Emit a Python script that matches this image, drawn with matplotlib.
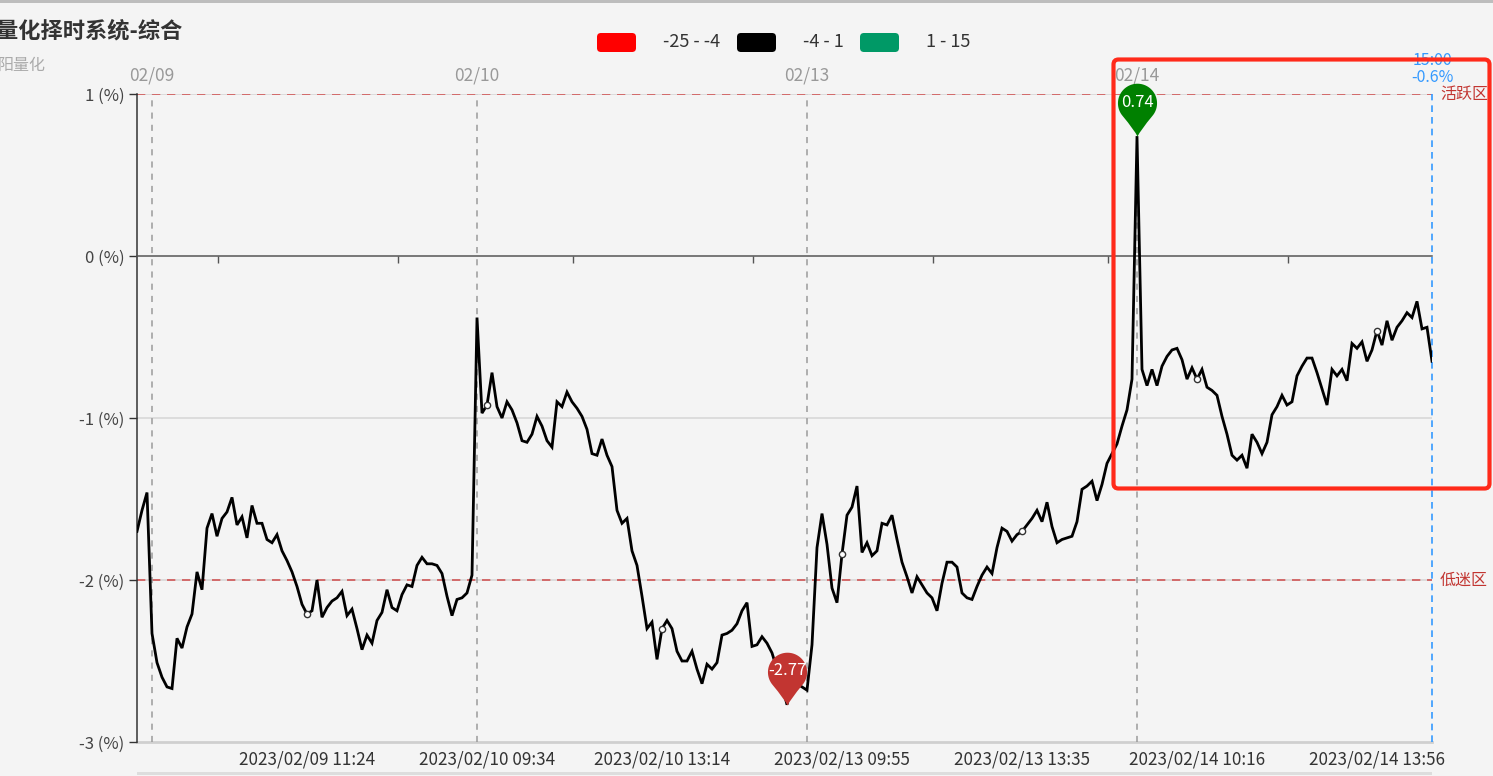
import numpy as np
import matplotlib
matplotlib.use('Agg')
import matplotlib.pyplot as plt
from matplotlib.path import Path
from matplotlib.patches import FancyBboxPatch, Rectangle
from matplotlib.transforms import Affine2D

plt.rcParams['font.family'] = ['Noto Sans CJK SC', 'DejaVu Sans']

# ---------------- data ----------------
title = '量化择时系统-综合'
subtitle = '阳量化'

values = [
    -1.70, -1.57, -1.46, -2.33, -2.51, -2.60, -2.66, -2.67, -2.36, -2.42,
    -2.29, -2.21, -1.95, -2.06, -1.68, -1.59, -1.73, -1.62, -1.58, -1.49,
    -1.66, -1.61, -1.74, -1.54, -1.65, -1.65, -1.75, -1.77, -1.72, -1.82,
    -1.88, -1.95, -2.04, -2.15, -2.21, -2.19, -2.00, -2.23, -2.17, -2.13,
    -2.11, -2.07, -2.22, -2.18, -2.30, -2.43, -2.34, -2.39, -2.25, -2.20,
    -2.06, -2.17, -2.19, -2.09, -2.03, -2.04, -1.91, -1.86, -1.90, -1.90,
    -1.91, -1.96, -2.10, -2.22, -2.12, -2.11, -2.08, -1.97, -0.38, -0.97,
    -0.92, -0.72, -0.93, -1.00, -0.90, -0.95, -1.03, -1.14, -1.15, -1.10,
    -0.99, -1.05, -1.14, -1.18, -0.90, -0.93, -0.84, -0.90, -0.94, -0.99,
    -1.07, -1.22, -1.23, -1.13, -1.23, -1.30, -1.57, -1.65, -1.62, -1.82,
    -1.91, -2.10, -2.30, -2.26, -2.49, -2.30, -2.25, -2.30, -2.44, -2.50,
    -2.50, -2.44, -2.55, -2.64, -2.52, -2.55, -2.51, -2.34, -2.33, -2.31,
    -2.27, -2.19, -2.14, -2.41, -2.40, -2.35, -2.39, -2.45, -2.55, -2.65,
    -2.77, -2.62, -2.64, -2.66, -2.68, -2.40, -1.80, -1.59, -1.78, -2.05,
    -2.14, -1.84, -1.60, -1.55, -1.42, -1.83, -1.77, -1.85, -1.82, -1.65,
    -1.66, -1.60, -1.75, -1.89, -1.98, -2.08, -1.98, -2.03, -2.08, -2.11,
    -2.19, -2.02, -1.89, -1.89, -1.92, -2.08, -2.11, -2.12, -2.04, -1.97,
    -1.92, -1.96, -1.80, -1.68, -1.70, -1.76, -1.72, -1.70, -1.66, -1.62,
    -1.57, -1.64, -1.52, -1.67, -1.77, -1.75, -1.74, -1.73, -1.64, -1.44,
    -1.42, -1.39, -1.51, -1.41, -1.28, -1.22, -1.16, -1.05, -0.95, -0.76,
     0.74, -0.70, -0.80, -0.70, -0.80, -0.68, -0.62, -0.58, -0.57, -0.64,
    -0.76, -0.69, -0.76, -0.70, -0.81, -0.83, -0.86, -0.99, -1.10, -1.23,
    -1.26, -1.23, -1.31, -1.10, -1.15, -1.22, -1.15, -0.98, -0.93, -0.86,
    -0.92, -0.90, -0.74, -0.68, -0.63, -0.63, -0.72, -0.82, -0.92, -0.70,
    -0.74, -0.70, -0.77, -0.54, -0.57, -0.53, -0.65, -0.58, -0.46, -0.55,
    -0.40, -0.52, -0.44, -0.40, -0.35, -0.38, -0.28, -0.45, -0.44, -0.65,
]

day_labels = ['02/09', '02/10', '02/13', '02/14']
day_start_idx = [3, 68, 134, 200]

time_labels = ['2023/02/09 11:24', '2023/02/10 09:34', '2023/02/10 13:14',
               '2023/02/13 09:55', '2023/02/13 13:35', '2023/02/14 10:16',
               '2023/02/14 13:56']
time_label_idx = [34, 70, 105, 141, 177, 212, 248]

y_ticks = [-3, -2, -1, 0, 1]
active_level, active_label = 1, '活跃区'
low_level, low_label = -2, '低迷区'
end_time, end_value = '15:00', -0.6

piece_ranges = [(-25, -4), (-4, 1), (1, 15)]
piece_colors = ['#ff0000', '#000000', '#009966']

# ---------------- figure ----------------
W, H = 1493, 776
BG = '#f4f4f4'
fig = plt.figure(figsize=(W / 100, H / 100), dpi=100, facecolor=BG)
ax = fig.add_axes([137 / W, 1 - 742 / H, 1295 / W, 648 / H])
ax.set_facecolor(BG)

n = len(values)
x = np.arange(n)
v = np.array(values)
ax.set_xlim(0, n - 1)
ax.set_ylim(-3, 1)

# spines
for s in ('top', 'right'):
    ax.spines[s].set_visible(False)
ax.spines['left'].set_color('#333333')
ax.spines['left'].set_linewidth(1.1)
ax.spines['bottom'].set_position(('data', 0))
ax.spines['bottom'].set_color('#555555')
ax.spines['bottom'].set_linewidth(1.1)

step = float(np.mean(np.diff(time_label_idx)))
mids = np.array(time_label_idx) - step / 2
ax.set_xticks(mids)
ax.tick_params(axis='x', direction='out', length=5, width=1, color='#555555',
               labelbottom=False)
ax.set_yticks(y_ticks)
ax.set_yticklabels([f'{t} (%)' for t in y_ticks])
ax.tick_params(axis='y', direction='out', length=6, width=1, color='#333333',
               labelcolor='#444444', labelsize=12, pad=3)

# grid lines
for t in y_ticks:
    if t == 0:
        continue
    if t == -3:
        ax.axhline(t, color='#cfcfcf', lw=2.0, zorder=0, clip_on=False)
    else:
        ax.axhline(t, color='#d8d8d8', lw=1.2, zorder=0)

# zone lines
for lvl, lab in ((active_level, active_label), (low_level, low_label)):
    ax.axhline(lvl, color='#d05656', lw=1.2, ls=(0, (5, 4)), zorder=1)
    ax.annotate(lab, xy=(1, lvl), xycoords=('axes fraction', 'data'),
                xytext=(8, 0), textcoords='offset pixels', ha='left',
                va='center', color='#c23531', fontsize=11.5)

# day separators
for lab, i in zip(day_labels, day_start_idx):
    ax.axvline(i, color='#9a9a9a', lw=1.1, ls=(0, (4, 4)), zorder=1)
    ax.annotate(lab, xy=(i, 1), xycoords=('data', 'axes fraction'),
                xytext=(0, 18), textcoords='offset pixels', ha='center',
                va='center', color='#999999', fontsize=12.5)

# end marker line
ax.axvline(n - 1, color='#3399ff', lw=1.2, ls=(0, (4, 3)), zorder=1,
           clip_on=False)
ax.annotate(f'{end_time}\n{end_value}%', xy=(n - 1, 1),
            xycoords=('data', 'axes fraction'), xytext=(0, 25),
            textcoords='offset pixels', ha='center', va='center',
            color='#3399ff', fontsize=11.5, linespacing=0.95)

# bottom time labels
for lab, i in zip(time_labels, time_label_idx):
    ax.annotate(lab, xy=(i, 0), xycoords=('data', 'axes fraction'),
                xytext=(0, -18), textcoords='offset pixels', ha='center',
                va='center', color='#333333', fontsize=12.3)

# main line
ax.plot(x, v, color='black', lw=2.0, zorder=3, solid_joinstyle='miter')
ax.plot(time_label_idx, v[time_label_idx], 'o', ms=4.5, mfc='white',
        mec='#333333', mew=1.0, zorder=4)


# pins
def pin_path():
    r, cy = 1.0, 1.7
    a0, a1 = np.deg2rad(-40), np.deg2rad(220)
    pr = (r * np.cos(a0), cy + r * np.sin(a0))
    pl = (r * np.cos(a1), cy + r * np.sin(a1))
    verts = [(0, 0), (0.15, 0.32), pr]
    codes = [Path.MOVETO, Path.CURVE3, Path.CURVE3]
    for a in np.linspace(a0, a1, 60)[1:]:
        verts.append((r * np.cos(a), cy + r * np.sin(a)))
        codes.append(Path.LINETO)
    verts += [(-0.15, 0.32), (0, 0), (0, 0)]
    codes += [Path.CURVE3, Path.CURVE3, Path.CLOSEPOLY]
    return Path(verts, codes)


pin = pin_path()
imax, imin = int(np.argmax(v)), int(np.argmin(v))
for idx, col in ((imax, '#008000'), (imin, '#c23531')):
    ax.plot([idx], [v[idx]], marker=pin, ms=76, mfc=col, mec='none',
            zorder=6, clip_on=False)
    ax.annotate(f'{v[idx]:.2f}', xy=(idx, v[idx]), xytext=(0, 34),
                textcoords='offset pixels', ha='center', va='center',
                color='white', fontsize=12, zorder=7)

# ---------------- figure-level decorations ----------------
tr = Affine2D().scale(1, -1).translate(0, H)

fig.text(-4 / W, 1 - 31 / H, title, ha='left', va='center', fontsize=16,
         fontweight='bold', color='#333333')
fig.text(-2 / W, 1 - 65 / H, subtitle, ha='left', va='center', fontsize=11.5,
         color='#aaaaaa')

# legend (visual map pieces)
legend_x = [597, 737, 860]
for (lo, hi), col, lx in zip(piece_ranges, piece_colors, legend_x):
    fig.add_artist(FancyBboxPatch((lx, 33), 39, 19,
                                  boxstyle='round,pad=0,rounding_size=4',
                                  transform=tr, fc=col, ec='none'))
    fig.text((lx + 66) / W, 1 - 42 / H, f'{lo} - {hi}', ha='left',
             va='center', fontsize=13, color='#333333')

# top border, bottom strip
fig.add_artist(Rectangle((0, 0), W, 2.5, transform=tr, fc='#bdbdbd',
                         ec='none', zorder=5))
fig.add_artist(Rectangle((137, 772), 1295, 3, transform=tr, fc='#dddddd',
                         ec='none', zorder=5))

# red highlight box
fig.add_artist(FancyBboxPatch((1113.5, 59.5), 376, 429,
                              boxstyle='round,pad=0,rounding_size=5',
                              transform=tr, fill=False, ec='#ff2a1a',
                              lw=3.0, zorder=10))

fig.savefig('out.png', dpi=100, facecolor=BG)
